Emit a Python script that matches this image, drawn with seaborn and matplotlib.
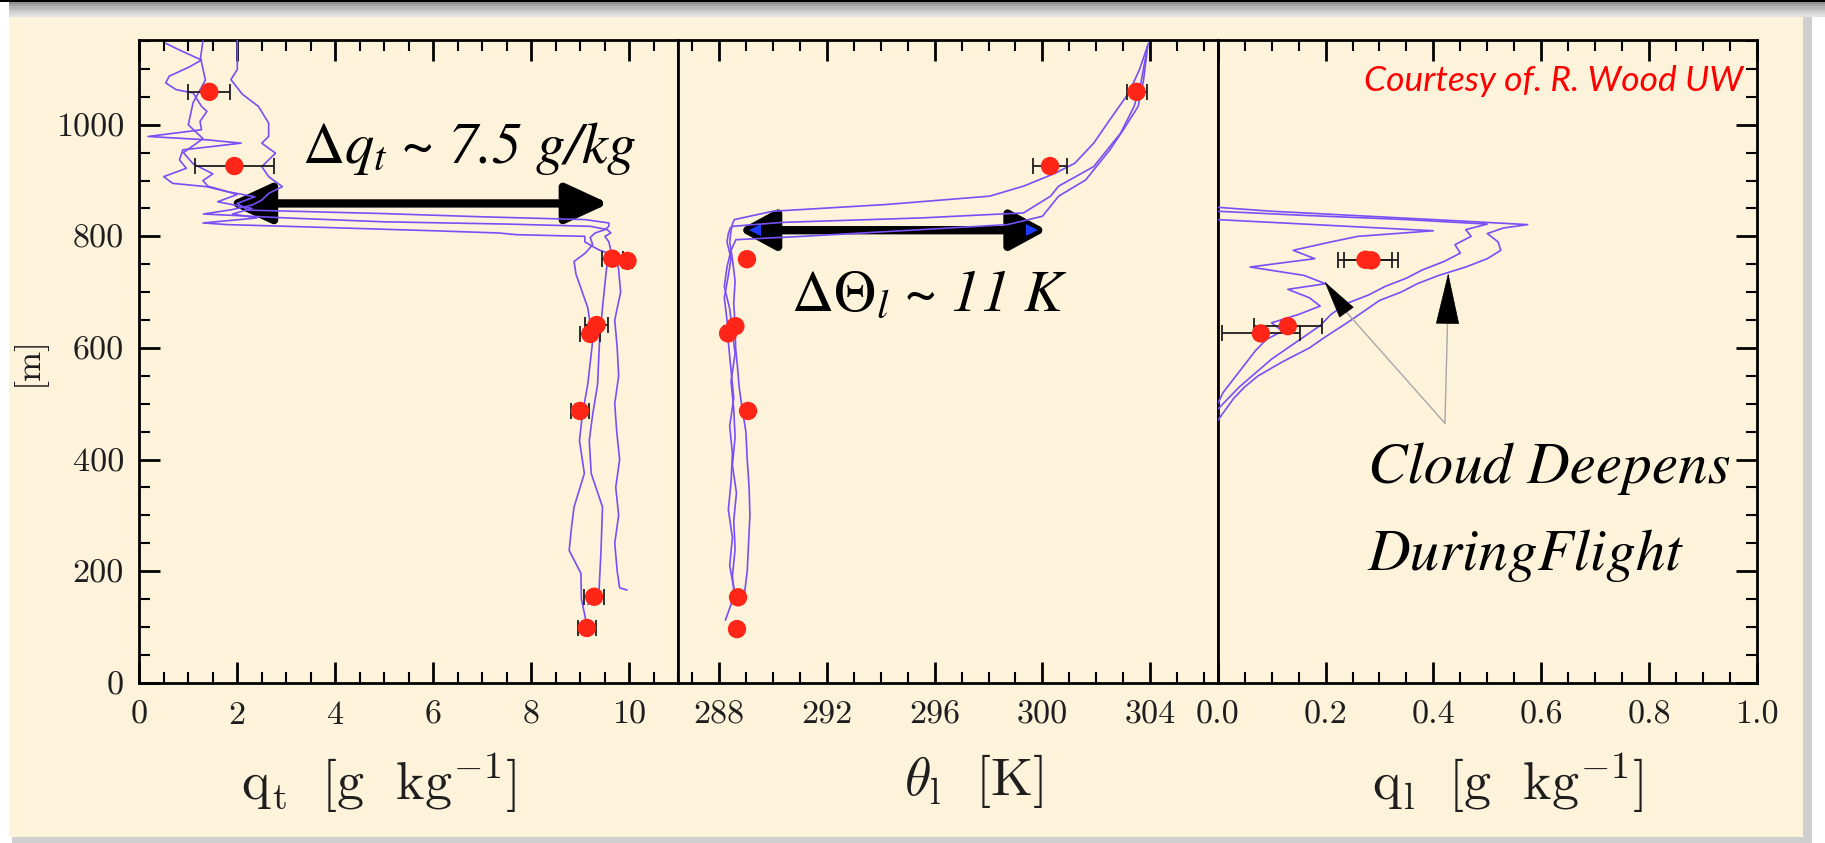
"""
Perfiles verticales de una capa de estratocúmulos: q_t, theta_l y q_l
medidos por avión (líneas) junto con medias por tramo (puntos rojos).
"""

import matplotlib
matplotlib.use('Agg')
import pandas as pd
import matplotlib.pyplot as plt
from matplotlib.patches import Rectangle
from matplotlib.ticker import MultipleLocator, FormatStrFormatter
import seaborn as sns

# ---------------------------------------------------------------------------
# Datos
# ---------------------------------------------------------------------------

# q_t [g/kg], tres perfiles
QT_Z_A = [112, 150, 196, 237, 280, 315, 375, 434, 481, 535, 613, 672, 732, 755, 770,
          785, 798, 806, 812, 818, 824, 830, 835, 841, 847, 859, 871, 880, 889, 895,
          907, 922, 937, 955, 967, 973, 979, 991, 1006, 1024, 1033, 1057, 1063, 1075,
          1087, 1104, 1116, 1134, 1146]
QT_A = [9.11, 9.02, 9.01, 8.77, 8.82, 8.87, 9.08, 8.98, 9.04, 9.15, 9.25, 9.15, 8.91, 8.87,
        9.10, 9.25, 9.20, 9.30, 9.50, 9.58, 9.58, 9.09, 7.00, 4.90, 2.22, 2.00, 2.36, 1.80,
        1.38, 0.68, 0.50, 0.96, 0.82, 0.89, 2.08, 1.38, 0.18, 1.27, 1.24, 1.38, 1.27, 1.10,
        0.75, 0.54, 0.61, 1.03, 1.27, 0.82, 0.54]
QT_Z_B = [140, 166, 237, 315, 375, 434, 481, 535, 613, 672, 732, 755, 775, 790, 800, 806,
          812, 818, 822, 826, 833, 840, 848, 856, 865, 877, 889, 907, 925, 949, 967, 979,
          1003, 1033, 1055, 1081, 1099, 1152]
QT_B = [9.15, 9.38, 9.42, 9.45, 9.22, 9.18, 9.25, 9.35, 9.39, 9.45, 9.52, 9.55, 9.62, 9.58,
        9.50, 9.62, 9.55, 9.20, 7.50, 5.00, 3.00, 1.31, 1.90, 2.30, 2.50, 2.64, 2.92, 2.64,
        2.50, 2.78, 2.50, 2.64, 2.64, 2.43, 2.10, 1.87, 2.00, 2.00]
QT_Z_C = [166, 170, 200, 250, 300, 350, 400, 450, 500, 550, 600, 650, 700, 740, 765, 776,
          790, 800, 803, 806, 810, 814, 818, 821, 824, 828, 833, 840, 850, 862, 875, 890,
          900, 912, 930, 950, 975, 1000, 1040, 1080, 1120, 1150]
QT_C = [9.95, 9.80, 9.75, 9.70, 9.78, 9.72, 9.80, 9.74, 9.70, 9.78, 9.75, 9.70, 9.82, 9.78,
        9.72, 9.37, 9.09, 9.09, 7.69, 7.34, 6.00, 4.50, 3.00, 1.80, 1.30, 1.80, 2.40, 1.90,
        2.30, 1.60, 2.00, 1.40, 1.30, 1.50, 1.10, 0.90, 1.30, 1.00, 1.10, 1.35, 1.25, 1.30]

# theta_l [K], tres perfiles
TH_Z_A = [160, 200, 250, 300, 350, 400, 450, 495, 530, 560, 600, 640, 680, 720, 760, 790,
          810, 822, 830, 845, 857, 872, 890, 913, 931, 967, 1009, 1057, 1099, 1146]
TH_A = [288.95, 289.05, 289.10, 289.15, 289.12, 289.05, 289.00, 288.85, 288.75, 288.70,
        288.62, 288.60, 288.55, 288.60, 288.50, 288.40, 288.45, 288.50, 288.57, 290.00,
        294.19, 298.04, 299.30, 300.47, 301.20, 301.90, 302.50, 303.20, 303.60, 303.93]
TH_Z_B = [112, 140, 170, 210, 260, 310, 360, 410, 460, 510, 560, 610, 650, 690, 730, 760,
          790, 805, 815, 818, 825, 833, 842, 872, 890, 925, 985, 1033, 1075, 1140]
TH_B = [288.24, 288.45, 288.55, 288.40, 288.50, 288.35, 288.45, 288.50, 288.40, 288.55,
        288.45, 288.35, 288.30, 288.20, 288.35, 288.45, 288.30, 288.35, 288.42, 288.50,
        290.35, 295.50, 299.30, 300.30, 300.60, 301.90, 302.90, 303.40, 303.65, 303.90]
TH_Z_C = [150, 190, 240, 290, 340, 390, 440, 490, 540, 590, 630, 670, 710, 745, 775, 794,
          800, 812, 821, 836, 872, 901, 955, 991, 1033, 1080, 1140]
TH_C = [288.60, 288.50, 288.60, 288.55, 288.65, 288.50, 288.60, 288.55, 288.45, 288.60,
        288.50, 288.40, 288.20, 288.30, 288.45, 288.63, 291.10, 295.50, 298.70, 300.00,
        300.60, 301.60, 302.50, 303.00, 303.55, 303.75, 303.90]

# q_l [g/kg], tres perfiles
QL_Z_A = [470, 490, 510, 530, 550, 575, 600, 620, 645, 665, 685, 700, 715, 730, 745, 760,
          775, 790, 805, 815, 821, 826, 835, 845, 852]
QL_A = [0.0, 0.015, 0.03, 0.05, 0.075, 0.12, 0.17, 0.20, 0.24, 0.27, 0.30, 0.34, 0.37, 0.41,
        0.46, 0.50, 0.525, 0.52, 0.50, 0.53, 0.575, 0.48, 0.30, 0.10, 0.0]
QL_Z_B = [490, 510, 530, 555, 580, 600, 620, 640, 660, 680, 695, 710, 725, 740, 755, 770,
          785, 800, 812, 822, 830, 838, 845]
QL_B = [0.0, 0.02, 0.04, 0.07, 0.10, 0.13, 0.16, 0.19, 0.21, 0.24, 0.28, 0.31, 0.35, 0.38,
        0.42, 0.45, 0.44, 0.47, 0.46, 0.50, 0.35, 0.15, 0.0]
QL_Z_C = [500, 520, 545, 570, 595, 615, 630, 645, 660, 675, 690, 705, 715, 730, 745, 760,
          775, 790, 800, 810, 820, 830]
QL_C = [0.0, 0.01, 0.03, 0.05, 0.07, 0.09, 0.12, 0.10, 0.15, 0.19, 0.17, 0.13, 0.20, 0.16,
        0.06, 0.18, 0.14, 0.21, 0.26, 0.40, 0.20, 0.0]

# Medias por tramo (puntos rojos) y su dispersión horizontal
QT_OBS = [1.43, 1.94, 9.65, 9.96, 9.33, 9.20, 8.99, 9.28, 9.13]
QT_OBS_Z = [1059, 926, 760, 756, 641, 625, 487, 154, 98]
QT_OBS_ERR = [0.43, 0.80, 0.22, 0.10, 0.23, 0.20, 0.18, 0.21, 0.18]

TH_OBS = [303.49, 300.28, 289.04, 288.34, 288.61, 289.08, 288.71, 288.67]
TH_OBS_Z = [1059, 926, 759, 626, 639, 487, 153, 96]
TH_OBS_ERR = [0.37, 0.64, 0.10, 0.15, 0.15, 0.10, 0.10, 0.10]

QL_OBS = [0.274, 0.285, 0.130, 0.080]
QL_OBS_Z = [758, 757, 639, 626]
QL_OBS_ERR = [0.05, 0.05, 0.063, 0.072]

# Colores
CREMA = '#FDF2DA'
VIOLETA = '#7650F6'
ROJO = '#FF2617'
TINTA = '#1E1E1E'

SERIF_CURSIVA = 'STIXGeneral'   # Times-like, viene con matplotlib

W, H = 1825, 843


def _perfiles(lista):
    """Convierte [(nombre, valores, alturas), ...] en una tabla larga."""
    filas = []
    for nombre, valores, alturas in lista:
        for v, z in zip(valores, alturas):
            filas.append({'perfil': nombre, 'valor': v, 'z': z})
    return pd.DataFrame(filas)


def _dibujar_panel(ax, perfiles, obs, obs_z, obs_err):
    df = _perfiles(perfiles)
    sns.lineplot(data=df, x='valor', y='z', units='perfil', estimator=None, sort=False,
                 color=VIOLETA, linewidth=1.2, ax=ax, legend=False, zorder=3)
    ax.errorbar(obs, obs_z, xerr=obs_err, fmt='none', ecolor=TINTA, elinewidth=1.3,
                capsize=6, capthick=1.3, zorder=4)
    sns.scatterplot(x=obs, y=obs_z, color=ROJO, s=175, edgecolor='none', ax=ax, zorder=5)
    ax.set_xlabel('')
    ax.set_ylabel('')


def _flecha_doble(ax, x0, x1, z, largo, ancho):
    ax.annotate('', xy=(x1, z), xytext=(x0, z),
                arrowprops=dict(arrowstyle=f'<|-|>,head_length={largo},head_width={ancho}',
                                color='black', lw=6, shrinkA=0, shrinkB=0,
                                mutation_scale=1),
                zorder=2)


def _anotacion(ax, x, z, texto, size=42):
    """Texto en cursiva tipo Times; la parte matemática en STIX."""
    ax.text(x, z, texto, fontsize=size, fontfamily=SERIF_CURSIVA, style='italic',
            math_fontfamily='stix', color='black', ha='left', va='baseline', zorder=6)


def _marco(fig):
    """Fondo crema con sombra gris, como en la diapositiva original."""
    def rect(x0, y0, x1, y1, color):
        fig.add_artist(Rectangle((x0 / W, 1 - y1 / H), (x1 - x0) / W, (y1 - y0) / H,
                                 transform=fig.transFigure, facecolor=color,
                                 edgecolor='none', zorder=-10))
    rect(12, 17, 1812, 843, '#cfcfcf')
    grises = ['#8f8f8f', '#a5a5a5', '#b5b5b5', '#c3c3c3', '#cfcfcf', '#d9d9d9', '#e2e2e2']
    for i, g in enumerate(grises):
        rect(9, 2 + i * 2.2, W, 2 + (i + 1) * 2.2, g)
    rect(0, 0, W, 2, '#000000')
    rect(9, 17, 1803, 837, CREMA)


def main():
    sns.set_theme(style='ticks')
    plt.rcParams.update({
        'axes.facecolor': CREMA,
        'axes.edgecolor': 'black',
        'axes.linewidth': 2.0,
        'text.color': TINTA,
        'xtick.color': 'black',
        'ytick.color': 'black',
        'xtick.labelcolor': TINTA,
        'ytick.labelcolor': TINTA,
        'axes.formatter.use_mathtext': True,
    })

    fig, axes = plt.subplots(1, 3, sharey=True, figsize=(W / 100, H / 100), dpi=100)
    fig.patch.set_facecolor('white')
    fig.subplots_adjust(left=0.0763, right=0.9627, bottom=0.1902, top=0.9526, wspace=0)
    _marco(fig)

    ax_qt, ax_th, ax_ql = axes

    _dibujar_panel(ax_qt, [('a', QT_A, QT_Z_A), ('b', QT_B, QT_Z_B), ('c', QT_C, QT_Z_C)],
                   QT_OBS, QT_OBS_Z, QT_OBS_ERR)
    _dibujar_panel(ax_th, [('a', TH_A, TH_Z_A), ('b', TH_B, TH_Z_B), ('c', TH_C, TH_Z_C)],
                   TH_OBS, TH_OBS_Z, TH_OBS_ERR)
    _dibujar_panel(ax_ql, [('a', QL_A, QL_Z_A), ('b', QL_B, QL_Z_B), ('c', QL_C, QL_Z_C)],
                   QL_OBS, QL_OBS_Z, QL_OBS_ERR)

    # Ejes y marcas
    ax_qt.set_ylim(0, 1152)
    ax_qt.yaxis.set_major_locator(MultipleLocator(200))
    ax_qt.yaxis.set_minor_locator(MultipleLocator(50))
    ax_qt.yaxis.set_major_formatter(FormatStrFormatter('%d'))

    ax_qt.set_xlim(0, 11)
    ax_qt.xaxis.set_major_locator(MultipleLocator(2))
    ax_qt.xaxis.set_minor_locator(MultipleLocator(0.5))
    ax_qt.xaxis.set_major_formatter(FormatStrFormatter('%d'))

    ax_th.set_xlim(286.5, 306.5)
    ax_th.xaxis.set_major_locator(MultipleLocator(4))
    ax_th.xaxis.set_minor_locator(MultipleLocator(1))
    ax_th.xaxis.set_major_formatter(FormatStrFormatter('%d'))

    ax_ql.set_xlim(0, 1.0)
    ax_ql.xaxis.set_major_locator(MultipleLocator(0.2))
    ax_ql.xaxis.set_minor_locator(MultipleLocator(0.05))
    ax_ql.xaxis.set_major_formatter(FormatStrFormatter('%.1f'))

    for ax in axes:
        ax.tick_params(which='both', direction='in', top=True, bottom=True)
        ax.tick_params(which='major', length=15, width=2)
        ax.tick_params(which='minor', length=8, width=1.5)
        ax.tick_params(axis='x', pad=13, labelsize=24.5, labelfontfamily='cmr10')
        ax.tick_params(axis='y', pad=11, labelsize=24.5, labelfontfamily='cmr10')
        for s in ax.spines.values():
            s.set_linewidth(2.0)
    ax_qt.tick_params(axis='y', which='both', left=True, right=False)
    ax_th.tick_params(axis='y', which='both', left=False, right=False, labelleft=False)
    ax_ql.tick_params(axis='y', which='both', left=False, right=True,
                      labelleft=False, labelright=False)

    etiqueta = dict(fontsize=39, color=TINTA, math_fontfamily='cm')
    ax_qt.set_xlabel(r'$\mathrm{q_t\ \ [g\ \ kg^{-1}]}$', **etiqueta)
    ax_th.set_xlabel(r'$\theta_\mathrm{l}\ \ \mathrm{[K]}$', **etiqueta)
    ax_ql.set_xlabel(r'$\mathrm{q_l\ \ [g\ \ kg^{-1}]}$', **etiqueta)
    ax_qt.xaxis.set_label_coords(0.444, -0.108)
    ax_th.xaxis.set_label_coords(0.547, -0.108)
    ax_ql.xaxis.set_label_coords(0.537, -0.108)
    ax_qt.set_ylabel('[m]', fontsize=26, fontfamily='cmr10', color=TINTA, labelpad=7)

    # Saltos en la inversión
    _flecha_doble(ax_qt, 1.81, 9.58, 859, 26, 12)
    _anotacion(ax_qt, 3.33, 931, r'$\mathrm{\Delta}q_t$ ~ 7.5 g/kg')

    _flecha_doble(ax_th, 288.74, 300.16, 811, 22, 12)
    ax_th.plot([289.35], [811], marker='<', color='#1E3BFF', markersize=9,
               markeredgewidth=0, zorder=2.5)
    ax_th.plot([299.6], [811], marker='>', color='#1E3BFF', markersize=9,
               markeredgewidth=0, zorder=2.5)
    _anotacion(ax_th, 290.67, 665, r'$\mathrm{\Delta\Theta}_l$ ~ 11 K')

    # Anotación del panel de q_l
    origen = (0.4214, 465)
    for base, punta, largo, ancho in [((0.238, 665), (0.198, 719), 26, 6),
                                      ((0.4262, 645), (0.4275, 734), 35, 8)]:
        ax_ql.annotate('', xy=base, xytext=origen,
                       arrowprops=dict(arrowstyle='-', color='#A8A8A8', lw=1.0,
                                       shrinkA=0, shrinkB=0), zorder=6)
        ax_ql.annotate('', xy=punta, xytext=base,
                       arrowprops=dict(arrowstyle=f'-|>,head_length={largo},head_width={ancho}',
                                       color='black', lw=0.5, shrinkA=0, shrinkB=0,
                                       mutation_scale=1), zorder=6)
    for texto, z in [('Cloud Deepens', 357), ('DuringFlight', 202)]:
        _anotacion(ax_ql, 0.278, z, texto, size=42.5)

    ax_ql.text(0.974, 1061, 'Courtesy of. R. Wood UW', fontsize=25.5, fontfamily='Lato',
               style='italic', color='#FF0000', ha='right', va='baseline', zorder=6)

    plt.savefig('out.png', dpi=100, facecolor=fig.get_facecolor())


if __name__ == '__main__':
    main()
